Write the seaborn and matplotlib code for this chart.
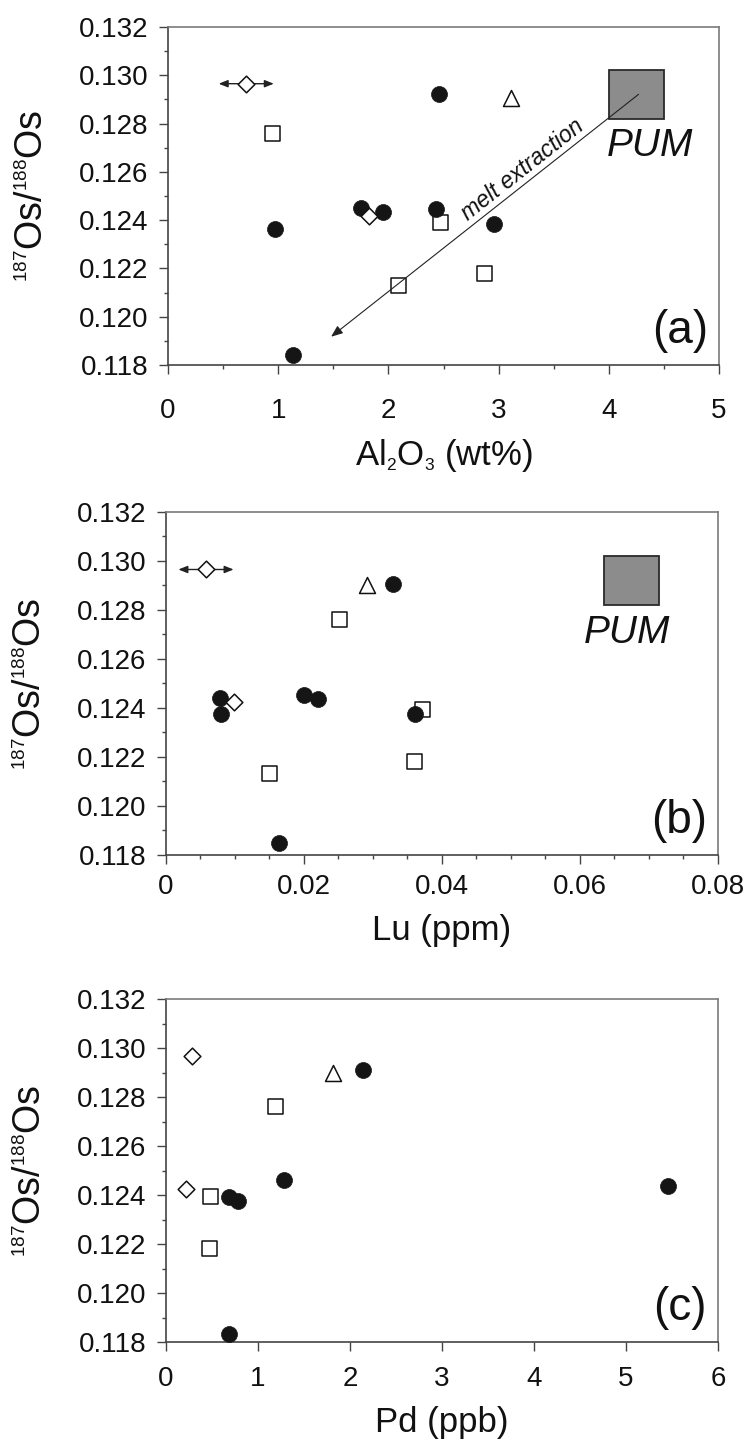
import matplotlib
matplotlib.use("Agg")
import matplotlib.pyplot as plt
import matplotlib.ticker as ticker
import matplotlib._mathtext as mathtext_internals
from matplotlib.patches import Rectangle
import numpy as np
import pandas as pd
import seaborn as sns


# ---- data ----
# panel (a): Al2O3 (wt%)
al2o3 = [2.46, 1.75, 1.95, 2.43, 0.97, 2.96, 1.13, 0.94, 2.47, 2.09, 2.87, 0.71, 1.82, 3.11]
os_a = [0.12924, 0.12451, 0.12432, 0.12445, 0.12363, 0.12385, 0.11841,
        0.12760, 0.12393, 0.12133, 0.12183, 0.12965, 0.12419, 0.12905]
kind_a = ['circle'] * 7 + ['square'] * 4 + ['diamond'] * 2 + ['triangle']
xerr_a = [0] * 11 + [0.25, 0, 0]

# panel (b): Lu (ppm)
lu = [0.0329, 0.0078, 0.0080, 0.0200, 0.0220, 0.0361, 0.0164,
      0.0251, 0.0371, 0.0150, 0.0360, 0.0058, 0.0099, 0.0291]
os_b = [0.12905, 0.12439, 0.12374, 0.12452, 0.12435, 0.12374, 0.11848,
        0.12765, 0.12394, 0.12136, 0.12183, 0.12965, 0.12425, 0.12901]
kind_b = ['circle'] * 7 + ['square'] * 4 + ['diamond'] * 2 + ['triangle']
xerr_b = [0] * 11 + [0.004, 0, 0]

# panel (c): Pd (ppb)
pd_ppb = [2.14, 1.28, 0.68, 0.78, 5.46, 0.69, 1.19, 0.48, 0.47, 0.28, 0.22, 1.82]
os_c = [0.12912, 0.12460, 0.12390, 0.12377, 0.12438, 0.11833,
        0.12765, 0.12395, 0.12185, 0.12968, 0.12425, 0.12900]
kind_c = ['circle'] * 6 + ['square'] * 3 + ['diamond'] * 2 + ['triangle']
xerr_c = [0] * 12

# PUM field
pum_al = [4.0, 4.5]
pum_lu = [0.0635, 0.0715]
pum_os = [0.1282, 0.1302]

# melt extraction trend (start, end) in Al2O3 / Os
melt_al = [4.27, 1.48]
melt_os = [0.12921, 0.11917]

styles = {
    'square': dict(marker='s', s=10.8 ** 2, color='white', edgecolor='#111111', linewidth=1.1, zorder=3),
    'circle': dict(marker='o', s=11.5 ** 2, color='#151515', edgecolor='#151515', linewidth=0.5, zorder=4),
    'diamond': dict(marker='D', s=8.5 ** 2, color='white', edgecolor='#111111', linewidth=1.1, zorder=5),
    'triangle': dict(marker='^', s=11.5 ** 2, color='white', edgecolor='#111111', linewidth=1.1, zorder=5),
}

sns.set_theme(style='ticks')
plt.rcParams['font.family'] = ['Liberation Sans', 'DejaVu Sans']
plt.rcParams['mathtext.fontset'] = 'custom'
plt.rcParams['mathtext.rm'] = 'Liberation Sans'
plt.rcParams['mathtext.it'] = 'Liberation Sans:italic'
# the original uses small super/subscripts
mathtext_internals.SHRINK_FACTOR = 0.5

YLABEL = r'$^{187}$Os/$^{188}$Os'


def draw_panel(ax, x, y, kind, xerr, xlim, xmajor, xminor, xlabel, tag, xpad):
    df = pd.DataFrame({'x': x, 'y': y, 'kind': kind, 'xerr': xerr})

    for _, r in df[df['xerr'] > 0].iterrows():
        ax.annotate('', xy=(r['x'] - r['xerr'], r['y']), xytext=(r['x'] + r['xerr'], r['y']),
                    arrowprops=dict(arrowstyle='<|-|>,head_length=0.45,head_width=0.18',
                                    color='#222222', lw=1.0, shrinkA=0, shrinkB=0,
                                    mutation_scale=12),
                    zorder=4)

    for k, st in styles.items():
        sub = df[df['kind'] == k]
        if len(sub):
            sns.scatterplot(data=sub, x='x', y='y', ax=ax, legend=False, **st)

    ax.set_xlim(xlim)
    ax.set_ylim(0.118, 0.132)
    ax.xaxis.set_major_locator(ticker.MultipleLocator(xmajor))
    if xminor:
        ax.xaxis.set_minor_locator(ticker.MultipleLocator(xminor))
    ax.yaxis.set_major_locator(ticker.MultipleLocator(0.002))
    ax.yaxis.set_minor_locator(ticker.MultipleLocator(0.001))
    ax.yaxis.set_major_formatter(ticker.FormatStrFormatter('%.3f'))
    ax.xaxis.set_major_formatter(ticker.FuncFormatter(lambda v, p: f'{v:g}'))

    ax.tick_params(which='major', direction='out', length=6.5, width=1.0,
                   color='#444444', labelsize=20, labelcolor='#111111')
    ax.tick_params(which='minor', direction='out', length=3, width=1.0, color='#444444')
    ax.tick_params(axis='y', which='major', pad=7.5)
    ax.tick_params(axis='x', which='major', pad=xpad)

    for side in ['left', 'bottom']:
        ax.spines[side].set_color('#444444')
        ax.spines[side].set_linewidth(1.2)
    for side in ['top', 'right']:
        ax.spines[side].set_color('#7a7a7a')
        ax.spines[side].set_linewidth(1.2)

    ax.set_xlabel(xlabel, fontsize=25, labelpad=10, color='#111111')
    ax.set_ylabel(YLABEL, fontsize=27, labelpad=20, color='#111111')
    ax.text(0.98, 0.035, tag, transform=ax.transAxes, ha='right', va='bottom',
            fontsize=33, color='#111111')


fig = plt.figure(figsize=(7.5, 14.42), dpi=100)
ax_a = fig.add_axes([0.224, 0.7469, 0.7347, 0.2344])
ax_b = fig.add_axes([0.2213, 0.4071, 0.736, 0.2379])
ax_c = fig.add_axes([0.2213, 0.0693, 0.736, 0.2379])

draw_panel(ax_a, al2o3, os_a, kind_a, xerr_a, (0, 5), 1, 0.5,
           r'Al$_2$O$_3$ (wt%)', '(a)', 17)
draw_panel(ax_b, lu, os_b, kind_b, xerr_b, (0, 0.08), 0.02, 0.005,
           'Lu (ppm)', '(b)', 7)
draw_panel(ax_c, pd_ppb, os_c, kind_c, xerr_c, (0, 6), 1, None,
           'Pd (ppb)', '(c)', 11)

# PUM boxes
for ax, px, tx in [(ax_a, pum_al, 4.37), (ax_b, pum_lu, 0.0668)]:
    ax.add_patch(Rectangle((px[0], pum_os[0]), px[1] - px[0], pum_os[1] - pum_os[0],
                           facecolor='#8c8c8c', edgecolor='#2a2a2a', lw=1.3, zorder=2))
    ax.text(tx, 0.12705, 'PUM', style='italic', fontsize=28, ha='center', va='center',
            color='#111111')

# melt extraction arrow
ax_a.annotate('', xy=(melt_al[1], melt_os[1]), xytext=(melt_al[0], melt_os[0]),
              arrowprops=dict(arrowstyle='-|>,head_length=0.5,head_width=0.2',
                              color='#222222', lw=0.8, shrinkA=0, shrinkB=0,
                              mutation_scale=14),
              zorder=3)
p0 = ax_a.transData.transform((melt_al[1], melt_os[1]))
p1 = ax_a.transData.transform((melt_al[0], melt_os[0]))
angle = np.degrees(np.arctan2(p1[1] - p0[1], p1[0] - p0[0]))
ax_a.text(3.22, 0.12608, 'melt extraction', rotation=angle, rotation_mode='anchor',
          ha='center', va='center', fontsize=16.5, style='italic', color='#111111')

plt.savefig('out.png', dpi=100)
